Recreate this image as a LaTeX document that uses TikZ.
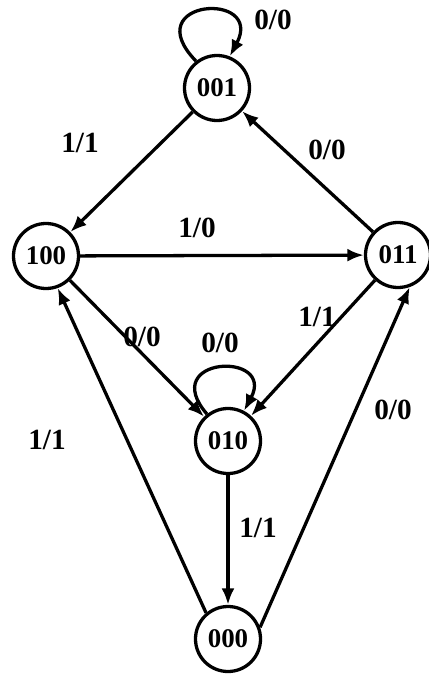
\documentclass[tikz,border=0pt]{standalone}
\usepackage{fontspec}
\setmainfont{Liberation Serif}
\usetikzlibrary{arrows.meta}
\begin{document}
\begin{tikzpicture}[x=0.03cm,y=-0.03cm,
  state/.style={circle,draw,line width=2.8pt,minimum size=1.95cm,inner sep=0pt,
    font=\fontsize{23}{25}\selectfont\bfseries},
  tr/.style={line width=2.8pt,-{Latex[length=14pt,width=11pt]}},
  lbl/.style={font=\fontsize{25}{27}\selectfont\bfseries,inner sep=0pt}]
\useasboundingbox (0,0) rectangle (429,678);
\node[state] (n001) at (217,88) {001};
\node[state] (n100) at (46,256) {100};
\node[state] (n011) at (398,255) {011};
\node[state] (n010) at (228,441) {010};
\node[state] (n000) at (228,639) {000};
% loops
\draw[tr] (n001.128) .. controls +(-60,-62) and +(35,-66) .. (n001.68);
\draw[tr] (n010.128) .. controls +(-50,-58) and +(32,-60) .. (n010.62);
% transitions
\draw[tr] (n001) -- (n100);
\draw[tr] (n011) -- (n001);
\draw[tr] (n100) -- (n011);
\draw[tr] (n100) -- (n010);
\draw[tr] (n011) -- (n010);
\draw[tr] (n010) -- (n000);
\draw[tr] (n000.130) -- (n100.290);
\draw[tr] (n000.20) -- (n011.290);
% labels
\node[lbl] (l1) at (273,20) {0/0};
\node[lbl] (l2) at (80,143) {1/1};
\node[lbl] (l3) at (327,150) {0/0};
\node[lbl] (l4) at (197,228) {1/0};
\node[lbl] (l5) at (142,337) {0/0};
\node[lbl] (l6) at (220,343) {0/0};
\node[lbl] (l7) at (317,317) {1/1};
\node[lbl] (l8) at (47,440) {1/1};
\node[lbl] (l9) at (393,410) {0/0};
\node[lbl] (l10) at (258,528) {1/1};
\end{tikzpicture}
\end{document}
